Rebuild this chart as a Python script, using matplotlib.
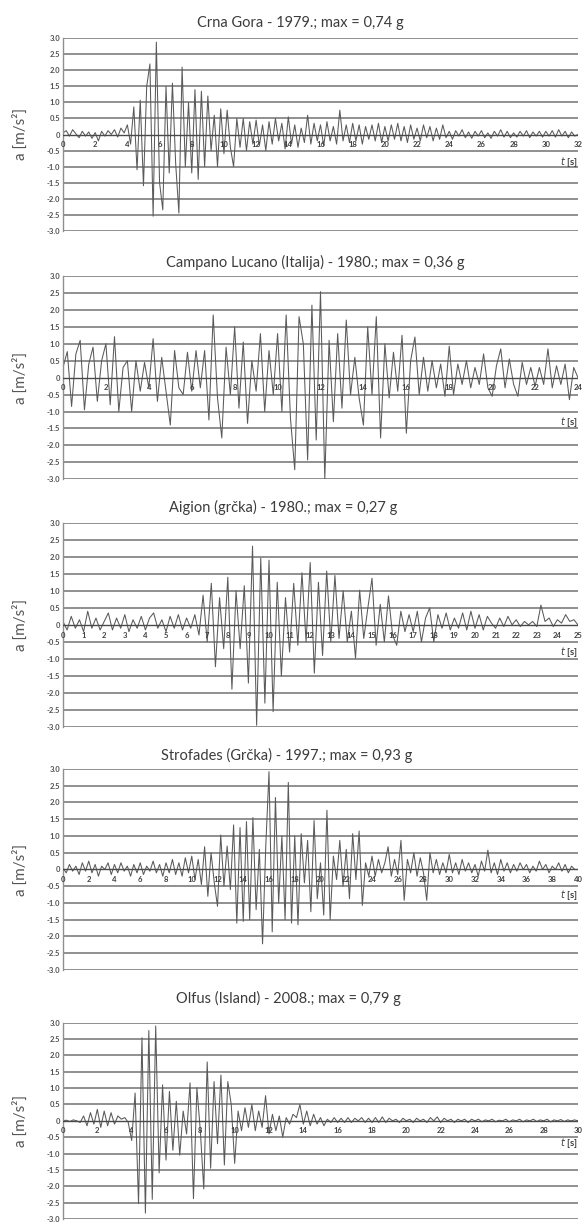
import numpy as np
import matplotlib
matplotlib.use('Agg')
import matplotlib.pyplot as plt

# Accelerograms (a in m/s^2)
titles = ['Crna Gora - 1979.; max = 0,74 g',
          'Campano Lucano (Italija) - 1980.; max = 0,36 g',
          'Aigion (grčka) - 1980.; max = 0,27 g',
          'Strofades (Grčka) - 1997.; max = 0,93 g',
          'Olfus (Island) - 2008.; max = 0,79 g']

t_end = [32, 24, 25, 40, 30]
t_step = [0.2, 0.2, 0.2, 0.25, 0.2]
x_tick_step = [2, 2, 1, 2, 2]

a_crna_gora = [
    0.05, 0.12, -0.05, 0.15, 0.02, -0.1, 0.1, -0.05, 0.08, -0.12,
    0.06, -0.2, 0.1, -0.05, 0.12, 0.0, 0.15, -0.08, 0.2, 0.05,
    0.3, -0.3, 0.86, -1.1, 1.07, -1.6, 1.5, 2.2, -2.55, 2.88,
    -1.5, -2.35, 1.5, -1.2, 1.6, -0.9, -2.45, 2.1, -1.0, 1.0,
    -1.2, 1.4, -1.4, 1.35, -1.0, 1.2, -0.5, 0.6, -1.0, 0.8,
    -0.6, 0.76, -0.4, -1.0, 0.5, -0.4, 0.5, -0.5, 0.4, -0.3,
    0.45, -0.35, 0.3, -0.5, 0.4, -0.3, 0.5, -0.2, 0.35, -0.45,
    0.55, -0.3, 0.3, -0.4, 0.2, -0.25, 0.6, -0.3, 0.35, -0.2,
    0.3, -0.35, 0.4, -0.2, 0.25, -0.3, 0.76, -0.2, 0.3, -0.25,
    0.35, -0.2, 0.3, -0.3, 0.25, -0.15, 0.3, -0.2, 0.35, -0.25,
    0.25, -0.2, 0.3, -0.15, 0.35, -0.2, 0.25, -0.25, 0.3, -0.15,
    0.2, -0.2, 0.3, -0.1, 0.25, -0.2, 0.2, -0.15, 0.3, -0.1,
    0.1, -0.15, 0.12, -0.05, 0.15, -0.1, 0.08, -0.12, 0.1, -0.05,
    0.12, -0.1, 0.05, -0.12, 0.1, -0.05, 0.15, -0.08, 0.1, -0.1,
    0.05, -0.08, 0.1, -0.05, 0.12, -0.1, 0.08, -0.05, 0.1, -0.08,
    0.1, -0.05, 0.12, -0.08, 0.15, -0.05, 0.1, -0.1, 0.08, -0.05,
    0.0]

a_campano = [
    0.3, 0.77, -0.85, 0.7, 1.1, -0.95, 0.4, 0.9, -0.7, 0.5,
    1.0, -0.8, 1.21, -1.0, 0.3, 0.5, -1.0, 0.5, -0.4, 0.45,
    -0.3, 1.15, -0.7, 0.6, -0.4, -1.4, 0.8, -0.3, -0.5, 0.75,
    -0.4, 0.8, -0.3, 0.8, -1.25, 1.85, -0.6, -1.78, 0.9, -0.5,
    1.5, -0.9, 1.05, -1.35, 0.5, -0.4, 1.3, -1.0, 0.8, -0.5,
    1.3, -1.0, 1.85, -1.2, -2.72, 1.8, 1.0, -2.43, 2.14, -1.84,
    2.54, -3.0, 1.1, -1.3, 1.3, -0.9, 1.7, -0.5, 0.6, -0.6,
    -1.4, 1.5, -0.5, 1.8, -1.78, 1.0, -0.6, 0.75, -0.4, 1.25,
    -1.64, 0.5, 1.2, -0.5, 0.6, -0.4, 0.5, -0.3, 0.4, -0.55,
    0.93, -0.5, 0.4, -0.2, 0.5, -0.3, 0.3, -0.2, 0.7, -0.3,
    -0.55, 0.35, 0.85, -0.3, 0.55, -0.2, -0.55, 0.45, -0.2, 0.3,
    -0.25, 0.3, -0.2, 0.85, -0.3, 0.35, -0.2, 0.4, -0.65, 0.3,
    0.0]

a_aigion = [
    0.1, -0.15, 0.25, -0.1, 0.15, -0.2, 0.4, -0.1, 0.2, -0.15,
    0.1, 0.35, -0.15, 0.2, -0.1, 0.3, -0.2, 0.15, -0.1, 0.25,
    -0.15, 0.2, 0.35, -0.1, 0.15, -0.2, 0.25, -0.1, 0.3, -0.15,
    0.2, -0.1, 0.3, -0.3, 0.87, -0.5, 1.22, -1.23, 0.8, -0.7,
    1.4, -1.89, 1.0, -0.7, 1.15, -1.71, 2.31, -2.95, 1.96, -2.3,
    1.9, -2.55, 1.25, -1.5, 0.8, -0.8, 1.22, -0.6, 1.53, -0.5,
    1.83, -1.42, 1.25, -0.9, 1.58, -0.5, 1.45, -0.4, 1.0, -0.5,
    0.4, -0.98, 1.02, -0.4, 0.5, 1.37, -0.6, 0.6, -0.5, 0.85,
    -0.3, -0.6, 0.4, -0.2, 0.3, -0.2, 0.4, -0.5, 0.2, 0.5,
    -0.5, 0.3, -0.1, 0.35, -0.15, 0.2, -0.1, 0.35, -0.15, 0.4,
    -0.1, 0.3, -0.15, 0.25, 0.05, -0.1, 0.2, -0.05, 0.25, 0.0,
    0.15, -0.05, 0.1, 0.0, 0.1, -0.05, 0.58, 0.1, 0.2, -0.05,
    0.15, 0.05, 0.3, 0.1, 0.15, 0.0]

a_strofades = [
    0.05, -0.1, 0.15, -0.05, 0.1, -0.15, 0.2, -0.05,
    0.25, -0.1, 0.15, -0.2, 0.1, 0.0, 0.2, -0.15,
    0.15, -0.1, 0.2, -0.05, 0.1, -0.2, 0.15, -0.1,
    0.2, -0.15, 0.1, -0.05, 0.25, -0.1, 0.15, -0.2,
    0.2, -0.1, 0.3, -0.15, 0.2, -0.2, 0.35, -0.1,
    0.4, -0.3, 0.3, -0.45, 0.68, -0.8, 0.5, -0.4,
    -1.1, 1.03, -0.5, 0.7, -0.6, 1.33, -1.6, 1.25,
    -1.55, 1.43, -1.5, 1.55, -1.2, 0.6, -2.22, 0.7,
    2.92, -1.86, 2.15, -1.0, 1.0, -1.5, 2.6, -1.6,
    1.0, -1.65, 1.07, -0.4, 0.87, -1.26, 1.46, -0.87,
    0.2, -1.36, 1.77, -1.5, 0.4, -0.3, 0.87, -0.5,
    0.6, -0.87, 1.07, -0.3, 1.15, -1.07, 0.2, -0.2,
    0.4, -0.2, 0.3, -0.1, 0.2, 0.68, -0.2, 0.3,
    -0.15, 0.87, -0.92, 0.3, -0.1, 0.5, -0.2, 0.35,
    -0.1, -0.92, 0.5, -0.1, 0.3, -0.15, 0.2, -0.1,
    0.45, -0.1, 0.2, -0.15, 0.3, -0.05, 0.2, -0.1,
    0.15, -0.2, 0.25, -0.05, 0.58, -0.1, 0.2, -0.15,
    0.3, -0.05, 0.2, -0.1, 0.15, -0.05, 0.2, 0.0,
    0.15, -0.1, 0.1, -0.05, 0.25, 0.0, 0.15, -0.1,
    0.1, 0.0, 0.2, -0.05, 0.15, -0.1, 0.1, 0.0,
    0.0]

a_olfus = [
    0.0, 0.02, -0.02, 0.03, 0.0, -0.05, 0.15, -0.15, 0.25, -0.1,
    0.35, -0.2, 0.3, -0.15, 0.25, -0.1, 0.15, 0.05, 0.1, -0.05,
    -0.6, 0.85, -2.53, 2.54, -2.82, 2.76, -2.4, 2.9, -1.59, 1.1,
    -1.2, 0.9, -0.9, 0.6, -1.05, 0.3, -0.4, 1.16, -2.38, 1.01,
    -0.3, -2.08, 1.8, -1.45, 1.2, -0.7, 1.4, -1.35, 1.2, 0.5,
    -1.3, 0.3, -0.3, 0.4, -0.2, 0.5, -0.3, 0.3, -0.2, 0.77,
    -0.4, 0.2, -0.3, 0.15, -0.5, 0.1, -0.1, 0.2, 0.1, 0.5,
    -0.1, 0.3, -0.15, 0.2, -0.1, 0.1, -0.15, 0.05, -0.05, 0.1,
    -0.05, 0.08, -0.05, 0.1, -0.05, 0.08, 0.0, 0.1, -0.05, 0.08,
    -0.05, 0.1, -0.05, 0.12, -0.05, 0.08, 0.0, 0.05, -0.05, 0.08,
    0.0, 0.05, -0.05, 0.08, 0.0, 0.05, -0.05, 0.1, 0.0, 0.12,
    -0.05, 0.08, 0.0, 0.05, -0.05, 0.05, 0.0, 0.05, -0.05, 0.05,
    0.0, 0.05, -0.03, 0.03, 0.0, 0.05, -0.03, 0.02, 0.0, 0.05,
    -0.03, 0.03, 0.0, 0.05, -0.03, 0.03, 0.0, 0.05, -0.02, 0.03,
    0.0, 0.05, -0.03, 0.03, 0.0, 0.04, -0.02, 0.03, 0.0, 0.03,
    0.0]

records = [a_crna_gora, a_campano, a_aigion, a_strofades, a_olfus]

y_ticks = [3.0, 2.5, 2.0, 1.5, 1.0, 0.5, 0, -0.5, -1.0, -1.5, -2.0, -2.5, -3.0]
y_tick_labels = ['3.0', '2.5', '2.0', '1.5', '1.0', '0.5', '0',
                 '-0.5', '-1.0', '-1.5', '-2.0', '-2.5', '-3.0']

# panel placement in pixels (top line, bottom line), title centre, t-label height
W, H = 587, 1230
panel_px = [(38.3, 230.7), (276, 479.3), (522.7, 727), (769, 970), (1022.7, 1219)]
title_px = [(300, 23), (315, 262), (283, 507), (287, 755), (288, 998)]
t_label_y = [-0.85, -1.3, -0.8, -0.75, -0.68]
x_left, x_right = 63, 578

plt.rcParams['font.family'] = ['Lato', 'DejaVu Sans']
fig = plt.figure(figsize=(W / 100, H / 100), dpi=100)

for i in range(5):
    top, bot = panel_px[i]
    ax = fig.add_axes([x_left / W, 1 - bot / H, (x_right - x_left) / W, (bot - top) / H])
    t = np.arange(len(records[i])) * t_step[i]

    # horizontal grid
    for yv in y_ticks:
        if yv == 0:
            continue
        ax.axhline(yv, color='#8f8f8f', lw=1.4, zorder=1)
    ax.plot(t, records[i], color='#5a5a5a', lw=0.75, zorder=2)
    ax.axhline(0, color='#4a4a4a', lw=1.0, zorder=3)

    ax.set_xlim(0, t_end[i])
    ax.set_ylim(-3.0, 3.0)
    for s in ['top', 'right', 'bottom']:
        ax.spines[s].set_visible(False)
    ax.spines['left'].set_color('#8f8f8f')
    ax.spines['left'].set_linewidth(1.0)

    ax.set_xticks([])
    ax.set_yticks(y_ticks)
    ax.set_yticklabels(y_tick_labels, fontsize=5.5, fontweight='bold', color='#505050')
    ax.tick_params(axis='y', length=0, pad=2)

    # time labels just under the zero line
    for xv in range(0, t_end[i] + 1, x_tick_step[i]):
        ax.text(xv, -0.3, str(xv), fontsize=5.5, fontweight='bold', color='#404040',
                ha='center', va='center', zorder=4)
    ax.text(t_end[i], t_label_y[i], r'$\mathit{t}$ [s]', fontsize=7, fontweight='bold',
            color='#404040', ha='right', va='center', zorder=4)

    fig.text(title_px[i][0] / W, 1 - title_px[i][1] / H, titles[i], fontsize=10.5,
             color='#3c3c3c', ha='center', va='center')
    fig.text(20 / W, 1 - ((top + bot) / 2) / H, 'a [m/s²]', fontsize=11,
             color='#555555', rotation=90, ha='center', va='center')

plt.savefig('out.png', dpi=100)
